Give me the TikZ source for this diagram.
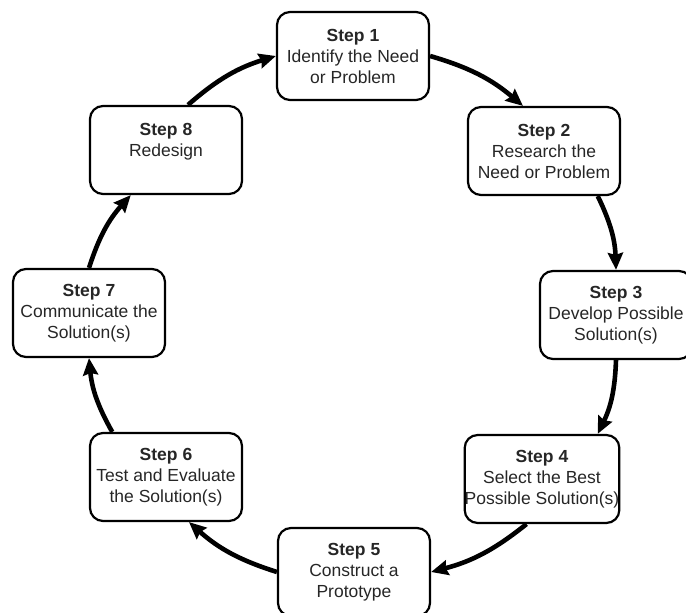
\documentclass[tikz,border=0pt]{standalone}
\usepackage{fontspec}
\setmainfont{Liberation Sans}
\usetikzlibrary{arrows.meta}

\tikzset{
    stepbox/.style={rectangle, rounded corners=13pt, draw=black, line width=2.2pt,
        minimum width=152pt, minimum height=88pt, inner sep=0pt, align=center,
        text=black!85, font=\fontsize{17.5}{21}\selectfont},
    flow/.style={line width=4.6pt, -{Stealth[length=17pt,width=15pt,inset=2pt]}}
}

\begin{document}
\begin{tikzpicture}[x=1pt, y=1pt]
    \clip (0,0) rectangle (686,613);
    \useasboundingbox (0,0) rectangle (686,613);
    % Steps
    \foreach \i/\x/\y/\txt in {1/353/557/{Identify the Need\\or Problem},
                               2/544/462/{Research the\\Need or Problem},
                               3/616/298/{Develop Possible\\Solution(s)},
                               4/542/134/{Select the Best\\Possible Solution(s)},
                               5/354/41/{Construct a\\Prototype},
                               6/166/136/{Test and Evaluate\\the Solution(s)},
                               7/89/300/{Communicate the\\Solution(s)},
                               8/166/463/{Redesign\\\mbox{}}} {
        \node[stepbox] (Step-\i) at (\x,\y) {\textbf{Step \i}\\\txt};
    }
    % Arrows
    \foreach \a/\b in {1.east/2.115, 2.-40/3.north, 3.south/4.39, 4.-109/5.east,
                       5.west/6.-63, 6.140/7.south, 7.north/8.-128, 8.64/1.west} {
        \draw[flow] (Step-\a) to[bend left=12] (Step-\b);
    }
\end{tikzpicture}
\end{document}
